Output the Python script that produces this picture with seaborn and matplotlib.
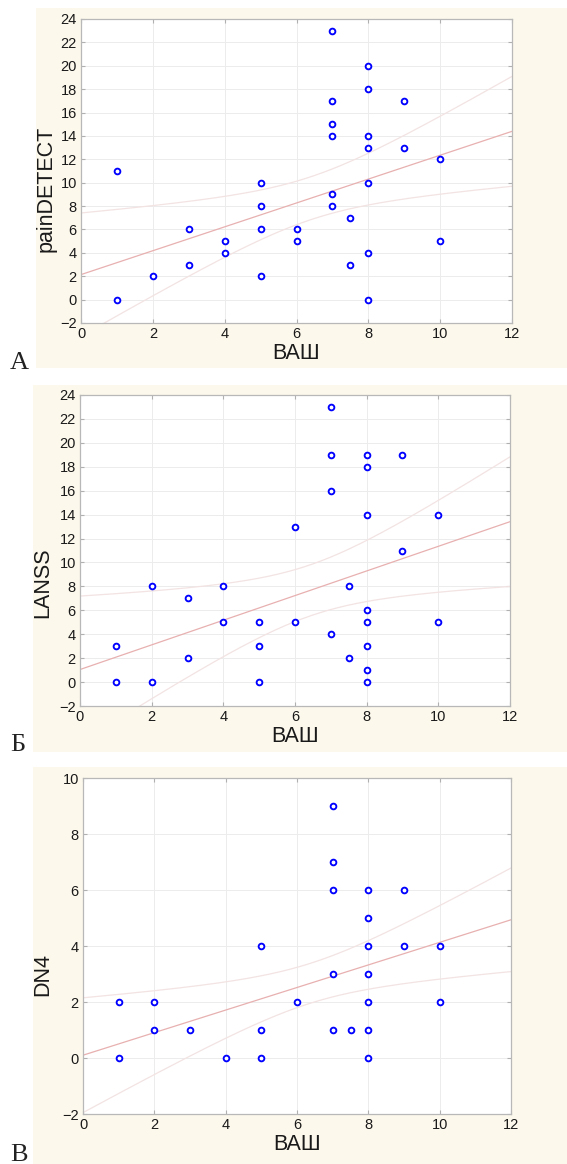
import numpy as np
import pandas as pd
import matplotlib
matplotlib.use("Agg")
import matplotlib.pyplot as plt
import seaborn as sns
from matplotlib.patches import Rectangle

# ---------------- data ----------------
vas_a = [1, 1, 2, 3, 3, 4, 4, 5, 5, 5, 5, 6, 6, 7, 7, 7, 7, 7, 7, 7.5, 7.5,
         8, 8, 8, 8, 8, 8, 8, 9, 9, 10, 10]
paindetect = [11, 0, 2, 6, 3, 5, 4, 10, 8, 6, 2, 6, 5, 23, 17, 15, 14, 9, 8, 7, 3,
              20, 18, 14, 13, 10, 4, 0, 17, 13, 12, 5]

vas_b = [1, 1, 2, 2, 3, 3, 4, 4, 5, 5, 5, 6, 6, 7, 7, 7, 7, 7.5, 7.5,
         8, 8, 8, 8, 8, 8, 8, 8, 9, 9, 10, 10]
lanss = [3, 0, 8, 0, 7, 2, 8, 5, 5, 3, 0, 13, 5, 23, 19, 16, 4, 8, 2,
         19, 18, 14, 6, 5, 3, 1, 0, 19, 11, 14, 5]

vas_c = [1, 1, 2, 2, 3, 4, 5, 5, 5, 6, 7, 7, 7, 7, 7, 7.5,
         8, 8, 8, 8, 8, 8, 8, 9, 9, 10, 10]
dn4 = [2, 0, 2, 1, 1, 0, 4, 1, 0, 2, 9, 7, 6, 3, 1, 1,
       6, 5, 4, 3, 2, 1, 0, 6, 4, 4, 2]

# regression line and 95% band as drawn in the picture (read values)
fit_intercept = [2.14, 1.05, 0.10]
fit_slope = [1.021, 1.030, 0.403]
band_half_at_0 = [5.27, 6.14, 2.05]
band_half_at_6 = [1.86, 2.17, 0.72]
band_half_at_12 = [4.70, 5.42, 1.85]

panel_letters = ["A", "Б", "В"]
y_labels = ["painDETECT", "LANSS", "DN4"]
x_label = "ВАШ"
x_ticks = [0, 2, 4, 6, 8, 10, 12]
y_ticks_big = [-2, 0, 2, 4, 6, 8, 10, 12, 14, 16, 18, 20, 22, 24]
y_ticks_small = [-2, 0, 2, 4, 6, 8, 10]

# ---------------- style ----------------
sns.set_theme(style="whitegrid")
plt.rcParams["font.family"] = ["Liberation Sans", "DejaVu Sans"]

W, H = 567, 1164
fig = plt.figure(figsize=(W / 100, H / 100), dpi=100)
fig.patch.set_facecolor("white")

CREAM = "#fdf8ec"
BLUE = "#0000ff"
FIT = "#e8b0b0"
BAND = "#f3e3e3"


def px_rect(x0, y0, x1, y1):
    return [x0 / W, 1 - y1 / H, (x1 - x0) / W, (y1 - y0) / H]


def band_shape(h0, h6, h12):
    # half-width of a regression confidence band: sqrt(a + c*(x-m)^2)
    d1 = h0 ** 2 - h12 ** 2
    d2 = h0 ** 2 - h6 ** 2
    r = d1 / d2
    m = (36 * r - 144) / (12 * r - 24)
    c = d2 / (12 * m - 36)
    a = h0 ** 2 - c * m ** 2
    return a, c, m


panels = [
    dict(x=vas_a, y=paindetect, yt=y_ticks_big, ylim=(-2, 24),
         ax=(81, 19, 512, 323), bg=(36, 8, 567, 368), letter_y=369,
         ylab=(-0.056, 0.44)),
    dict(x=vas_b, y=lanss, yt=y_ticks_big, ylim=(-2, 24),
         ax=(80, 395, 510, 706), bg=(33, 385, 567, 752), letter_y=751,
         ylab=(-0.063, 0.395)),
    dict(x=vas_c, y=dn4, yt=y_ticks_small, ylim=(-2, 10),
         ax=(83, 778, 511, 1114), bg=(33, 767, 567, 1164), letter_y=1161,
         ylab=(-0.070, 0.414)),
]

for i, p in enumerate(panels):
    bx0, by0, bx1, by1 = p["bg"]
    fig.patches.append(Rectangle((bx0 / W, 1 - by1 / H), (bx1 - bx0) / W, (by1 - by0) / H,
                                 transform=fig.transFigure, facecolor=CREAM,
                                 edgecolor="none", zorder=-5))
    fig.text(10 / W, 1 - p["letter_y"] / H, panel_letters[i], family="Liberation Serif",
             fontsize=19, color="#222222", ha="left", va="baseline")

    ax = fig.add_axes(px_rect(*p["ax"]))
    ax.set_facecolor("white")
    ax.set_xlim(0, 12)
    ax.set_ylim(*p["ylim"])

    df = pd.DataFrame({"x": p["x"], "y": p["y"]})

    # fitted line and its confidence band
    xs = np.linspace(0, 12, 241)
    yhat = fit_intercept[i] + fit_slope[i] * xs
    a, c, m = band_shape(band_half_at_0[i], band_half_at_6[i], band_half_at_12[i])
    half = np.sqrt(a + c * (xs - m) ** 2)
    fit_df = pd.DataFrame({"x": xs, "fit": yhat, "upper": yhat + half, "lower": yhat - half})
    sns.lineplot(data=fit_df, x="x", y="upper", ax=ax, color=BAND, lw=0.9, zorder=2)
    sns.lineplot(data=fit_df, x="x", y="lower", ax=ax, color=BAND, lw=0.9, zorder=2)
    sns.lineplot(data=fit_df, x="x", y="fit", ax=ax, color=FIT, lw=0.9, zorder=2)

    sns.scatterplot(data=df, x="x", y="y", ax=ax, marker="o", s=17,
                    facecolor="white", edgecolor=BLUE, linewidth=1.35, zorder=3)

    ax.set_xlim(0, 12)
    ax.set_ylim(*p["ylim"])
    ax.set_xticks(x_ticks)
    ax.set_yticks(p["yt"])
    ax.grid(True, color="#ececec", lw=0.7)
    ax.tick_params(axis="both", which="both", direction="in", length=3, width=0.8,
                   color="#b0b0b0", labelsize=10.5, labelcolor="#1a1a1a", pad=3,
                   left=True, right=True, bottom=True, top=True)
    for sp in ax.spines.values():
        sp.set_color("#b8b8b8")
        sp.set_linewidth(0.9)
    ax.set_xlabel(x_label, fontsize=15.5, color="#1a1a1a", labelpad=1)
    ax.set_ylabel(y_labels[i], fontsize=15.5, color="#1a1a1a")
    ax.yaxis.set_label_coords(*p["ylab"])

fig.savefig("out.png", dpi=100, facecolor="white")
